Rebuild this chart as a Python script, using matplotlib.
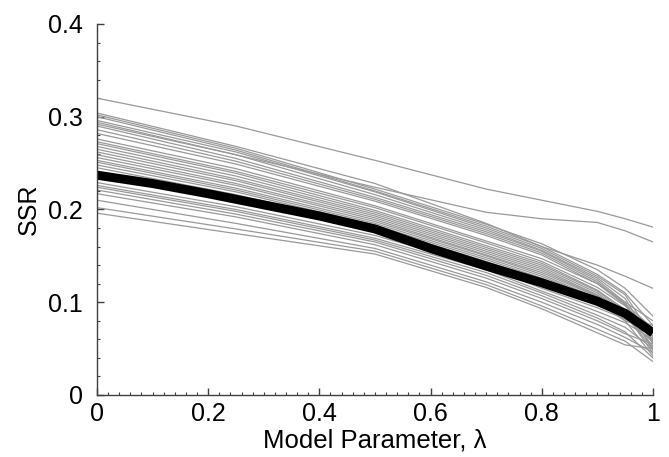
import matplotlib
matplotlib.use("Agg")
from matplotlib import pyplot as plt
from matplotlib.ticker import MultipleLocator, FuncFormatter
import numpy as np

plt.rcParams['font.family'] = ['Liberation Sans', 'DejaVu Sans']

# sample positions of the individual runs
lam = [0, 0.25, 0.5, 0.7, 0.8, 0.9, 0.95, 1.0]
runs = [
    [0.320, 0.290, 0.253, 0.222, 0.210, 0.198, 0.190, 0.181],
    [0.292, 0.259, 0.224, 0.197, 0.190, 0.186, 0.177, 0.165],
    [0.304, 0.268, 0.228, 0.185, 0.160, 0.140, 0.128, 0.115],
    [0.302, 0.266, 0.222, 0.184, 0.163, 0.135, 0.115, 0.085],
    [0.300, 0.264, 0.220, 0.182, 0.160, 0.130, 0.110, 0.075],
    [0.296, 0.262, 0.219, 0.180, 0.158, 0.128, 0.108, 0.062],
    [0.294, 0.259, 0.216, 0.178, 0.156, 0.126, 0.104, 0.055],
    [0.290, 0.255, 0.213, 0.176, 0.155, 0.124, 0.100, 0.048],
    [0.286, 0.252, 0.211, 0.174, 0.153, 0.122, 0.098, 0.072],
    [0.282, 0.249, 0.209, 0.172, 0.151, 0.120, 0.097, 0.058],
    [0.276, 0.244, 0.204, 0.166, 0.147, 0.120, 0.100, 0.080],
    [0.273, 0.241, 0.202, 0.164, 0.144, 0.116, 0.096, 0.068],
    [0.271, 0.239, 0.199, 0.161, 0.142, 0.113, 0.092, 0.052],
    [0.268, 0.236, 0.197, 0.159, 0.140, 0.112, 0.090, 0.060],
    [0.265, 0.233, 0.195, 0.157, 0.138, 0.110, 0.088, 0.045],
    [0.262, 0.231, 0.193, 0.155, 0.136, 0.108, 0.088, 0.066],
    [0.259, 0.228, 0.191, 0.153, 0.134, 0.107, 0.086, 0.050],
    [0.256, 0.226, 0.189, 0.151, 0.132, 0.106, 0.085, 0.075],
    [0.253, 0.223, 0.187, 0.150, 0.130, 0.104, 0.083, 0.057],
    [0.251, 0.221, 0.185, 0.148, 0.128, 0.103, 0.082, 0.064],
    [0.248, 0.219, 0.183, 0.146, 0.126, 0.101, 0.080, 0.042],
    [0.245, 0.216, 0.181, 0.144, 0.124, 0.100, 0.080, 0.070],
    [0.229, 0.203, 0.172, 0.138, 0.115, 0.094, 0.082, 0.072],
    [0.226, 0.200, 0.169, 0.135, 0.112, 0.090, 0.078, 0.060],
    [0.224, 0.198, 0.167, 0.132, 0.110, 0.086, 0.073, 0.050],
    [0.221, 0.195, 0.165, 0.129, 0.107, 0.083, 0.068, 0.040],
    [0.217, 0.192, 0.162, 0.126, 0.104, 0.080, 0.066, 0.055],
    [0.210, 0.185, 0.158, 0.122, 0.100, 0.076, 0.062, 0.046],
    [0.202, 0.179, 0.155, 0.119, 0.096, 0.071, 0.058, 0.036],
    [0.196, 0.174, 0.152, 0.116, 0.093, 0.067, 0.054, 0.050],
]

# thick reference curve
lam_ref = [0, 0.1, 0.2, 0.3, 0.4, 0.5, 0.6, 0.7, 0.8, 0.9, 0.95, 1.0]
ssr_ref = [0.237, 0.228, 0.217, 0.205, 0.193, 0.179, 0.158, 0.139, 0.121, 0.101, 0.088, 0.067]

fig = plt.figure(figsize=(6.69, 4.57), dpi=100)
ax = fig.add_axes([0.145, 0.1357, 0.831, 0.8118])

for r in runs:
    ax.plot(lam, r, color='#999999', lw=0.9)
ax.plot(lam_ref, ssr_ref, color='black', lw=6.5, solid_capstyle='butt')

ax.set_xlim(0, 1)
ax.set_ylim(0, 0.4)
ax.xaxis.set_major_locator(MultipleLocator(0.2))
ax.xaxis.set_minor_locator(MultipleLocator(0.02))
ax.yaxis.set_major_locator(MultipleLocator(0.1))
ax.yaxis.set_minor_locator(MultipleLocator(0.02))
fmt = FuncFormatter(lambda v, pos: '%g' % round(v, 2))
ax.xaxis.set_major_formatter(fmt)
ax.yaxis.set_major_formatter(fmt)

for s in ['top', 'right']:
    ax.spines[s].set_visible(False)
for s in ['left', 'bottom']:
    ax.spines[s].set_color('#404040')
    ax.spines[s].set_linewidth(1.0)

ax.tick_params(which='both', direction='in', colors='#404040', labelcolor='black', labelsize=18)
ax.tick_params(which='major', length=5, width=1)
ax.tick_params(which='minor', length=2.5, width=0.8)
ax.tick_params(axis='y', which='major', pad=10)
ax.tick_params(axis='x', which='major', pad=5)

ax.set_xlabel('Model Parameter, λ', fontsize=18.5, labelpad=2)
ax.set_ylabel('SSR', fontsize=18, labelpad=5)

fig.savefig('out.png', dpi=100)
